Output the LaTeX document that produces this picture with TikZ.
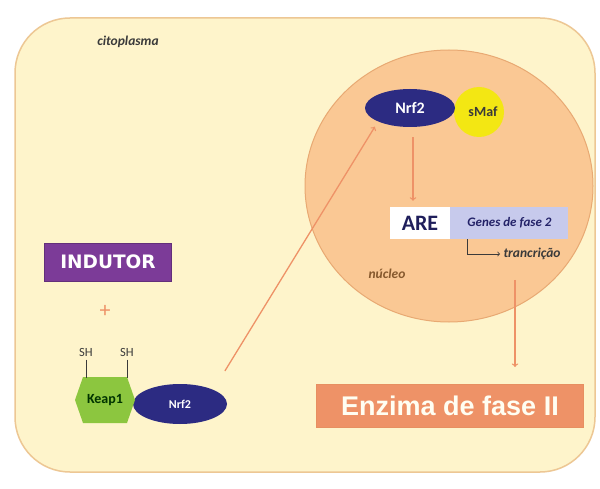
\documentclass[tikz,border=0pt]{standalone}
\usepackage{fontspec}
\setmainfont{Carlito}
\newfontfamily\enzfont{Liberation Sans}
\newfontfamily\indfont{DejaVu Sans}
\usetikzlibrary{arrows}
\usetikzlibrary{positioning}
\usetikzlibrary{shapes.geometric}
\definecolor{citofill}{HTML}{FEF4CB}
\definecolor{citoborda}{HTML}{EDC794}
\definecolor{nucfill}{HTML}{FAC894}
\definecolor{nucborda}{HTML}{E8A973}
\definecolor{marinho}{HTML}{2C2B82}
\definecolor{amarelo}{HTML}{F3E713}
\definecolor{salmao}{HTML}{EE9267}
\definecolor{lilas}{HTML}{C7CAEC}
\definecolor{roxo}{HTML}{7C3B98}
\definecolor{verde}{HTML}{8CC63F}
\definecolor{escuro}{HTML}{3A3A3A}
\tikzset{
  flecha/.style={->, salmao, line width=1.3pt},
  proteina/.style={ellipse, fill=marinho, text=white, inner sep=0pt},
  rotulo/.style={font=\itshape\bfseries\fontsize{13.5}{13.5}\selectfont, text=escuro}
}

\begin{document}
\begin{tikzpicture}[x=1pt, y=-1pt]
  \useasboundingbox[fill=white] (0,0) rectangle (600,489);
  % celula
  \draw[citoborda, fill=citofill, line width=1.5pt, rounded corners=55pt] (15,18) rectangle (595,472);
  \node[rotulo] (cito) at (128,42) {citoplasma};
  \node[ellipse, draw=nucborda, fill=nucfill, line width=1pt, minimum width=288pt, minimum height=272pt] (nucleo) at (449,186) {};
  \node[rotulo, text=brown!70!black] (nuc) at (387,274) {núcleo};

  % dentro do nucleo
  \node[circle, fill=amarelo, minimum size=50pt, inner sep=0pt] (smaf) at (479,112) {};
  \node[font=\bfseries\fontsize{14}{14}\selectfont, text=escuro] at ([xshift=4pt]smaf) {sMaf};
  \node[proteina, minimum width=90pt, minimum height=38pt, font=\bfseries\fontsize{16}{16}\selectfont] (nrfnuc) at (410,108) {Nrf2};
  \node[fill=white, minimum width=60pt, minimum height=32pt, inner sep=0pt, text=marinho!70!black,
    font=\bfseries\fontsize{22}{22}\selectfont] (are) at (420,223) {ARE};
  \node[fill=lilas, minimum width=118pt, minimum height=32pt, inner sep=0pt, right=0pt of are,
    font=\itshape\bfseries\fontsize{13}{13}\selectfont, text=marinho!80!black] (genes) {Genes de fase 2};
  \node[rotulo, anchor=west] (transc) at (500,254) {trancrição};
  \draw[->, escuro, line width=0.8pt] ([xshift=17pt]genes.south west) |- (transc.west);
  \draw[flecha, shorten <=10pt, shorten >=6pt] ([xshift=3pt]nrfnuc.south) -- ([xshift=-7pt]are.north);

  % enzima
  \node[fill=salmao, draw=salmao!85!brown, line width=1pt, minimum width=267pt, minimum height=43pt,
    text=white!95!yellow, font=\enzfont\bfseries\fontsize{27}{27}\selectfont] (enzima) at (450,406) {Enzima de fase II};
  \coordinate (saida) at (515,280);
  \draw[flecha, shorten >=17pt] (saida) -- (saida |- enzima.north);

  % indutor e Keap1
  \node[fill=roxo, draw=roxo!80!black, minimum width=127pt, minimum height=38pt, text=white,
    font=\indfont\bfseries\fontsize{18.5}{18.5}\selectfont] (indutor) at (108,262) {INDUTOR};
  \node[text=salmao, font=\fontsize{22}{22}\selectfont] (mais) at (105,311) {+};
  \node[proteina, minimum width=94pt, minimum height=40pt, font=\bfseries\fontsize{12}{12}\selectfont] (nrfcit) at (180,404) {Nrf2};
  \fill[verde] (75,400) -- (83,377) -- (127,377) -- (135,400) -- (127,423) -- (83,423) -- cycle;
  \node[font=\bfseries\fontsize{14}{14}\selectfont, text=black!80!green] (keap) at (105,400) {Keap1};
  \coordinate (keaptopo) at (105,378);
  \node[font=\fontsize{12.5}{12.5}\selectfont, text=escuro] (sh1) at (86,352) {SH};
  \node[font=\fontsize{12.5}{12.5}\selectfont, text=escuro] (sh2) at (127,352) {SH};
  \draw[escuro, line width=0.8pt] (sh1.south) -- (sh1.south |- keaptopo);
  \draw[escuro, line width=0.8pt] (sh2.south) -- (sh2.south |- keaptopo);

  \draw[flecha, shorten <=22pt, shorten >=6pt] (nrfcit.north east) -- (nrfnuc.south west);
\end{tikzpicture}
\end{document}
